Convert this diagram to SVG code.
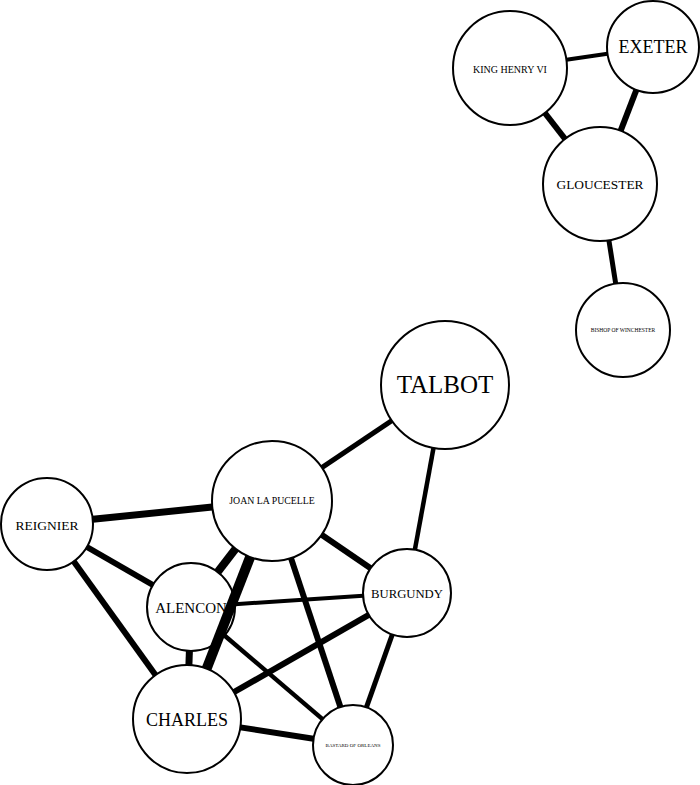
<svg xmlns="http://www.w3.org/2000/svg" width="700" height="785" viewBox="0 0 700 785">
<style>
  .node circle { fill: #ffffff; stroke: #000000; stroke-width: 2; }
  .node text { font-family: "Liberation Serif", "Times New Roman", serif; fill: #000000; text-anchor: middle; }
  #connectors line { stroke: #000000; stroke-linecap: butt; }
</style>
<rect width="700" height="785" fill="#ffffff"/>
<g id="nodes">
  <g id="king-henry-vi" class="node"><circle cx="510" cy="68" r="57"/><text x="510" y="73" font-size="10">KING HENRY VI</text></g>
  <g id="exeter" class="node"><circle cx="653" cy="47" r="46"/><text x="653" y="53" font-size="18">EXETER</text></g>
  <g id="gloucester" class="node"><circle cx="600" cy="184" r="57"/><text x="600" y="189" font-size="13.4">GLOUCESTER</text></g>
  <g id="bishop-of-winchester" class="node"><circle cx="623" cy="330" r="47"/><text x="623" y="332" font-size="5.5">BISHOP OF WINCHESTER</text></g>
  <g id="talbot" class="node"><circle cx="445" cy="385" r="64"/><text x="445" y="393" font-size="25">TALBOT</text></g>
  <g id="joan-la-pucelle" class="node"><circle cx="272" cy="501" r="60"/><text x="272" y="504" font-size="9.8">JOAN LA PUCELLE</text></g>
  <g id="reignier" class="node"><circle cx="47" cy="524" r="46"/><text x="47" y="530" font-size="13.5">REIGNIER</text></g>
  <g id="alencon" class="node"><circle cx="191" cy="607" r="44"/><text x="191" y="613" font-size="15">ALENCON</text></g>
  <g id="burgundy" class="node"><circle cx="407" cy="593" r="44"/><text x="407" y="598" font-size="12.7">BURGUNDY</text></g>
  <g id="charles" class="node"><circle cx="187" cy="719" r="54"/><text x="187" y="726" font-size="18">CHARLES</text></g>
  <g id="bastard-of-orleans" class="node"><circle cx="353" cy="745" r="40"/><text x="353" y="747" font-size="5">BASTARD OF ORLEANS</text></g>
</g>
<g id="connectors">
  <line x1="566.4" y1="59.7" x2="607.5" y2="53.7" stroke-width="4"/>
  <line x1="544.9" y1="113.0" x2="565.1" y2="139.0" stroke-width="6"/>
  <line x1="636.4" y1="89.9" x2="620.6" y2="130.8" stroke-width="6"/>
  <line x1="608.9" y1="240.3" x2="615.7" y2="283.6" stroke-width="5"/>
  <line x1="391.8" y1="420.6" x2="321.8" y2="467.6" stroke-width="5"/>
  <line x1="433.5" y1="448.0" x2="414.9" y2="549.7" stroke-width="4.5"/>
  <line x1="92.8" y1="519.3" x2="212.3" y2="507.1" stroke-width="7"/>
  <line x1="86.9" y1="547.0" x2="152.9" y2="585.0" stroke-width="6"/>
  <line x1="73.8" y1="561.4" x2="155.5" y2="675.1" stroke-width="6"/>
  <line x1="235.6" y1="548.7" x2="217.7" y2="572.0" stroke-width="8"/>
  <line x1="250.2" y1="556.9" x2="206.6" y2="668.7" stroke-width="10"/>
  <line x1="321.6" y1="534.8" x2="370.6" y2="568.2" stroke-width="6"/>
  <line x1="290.9" y1="557.9" x2="340.4" y2="707.0" stroke-width="6"/>
  <line x1="234.9" y1="604.2" x2="363.1" y2="595.8" stroke-width="4"/>
  <line x1="189.4" y1="651.0" x2="188.9" y2="665.0" stroke-width="7"/>
  <line x1="224.5" y1="635.5" x2="322.5" y2="719.1" stroke-width="4.5"/>
  <line x1="368.8" y1="614.9" x2="233.9" y2="692.2" stroke-width="6"/>
  <line x1="392.3" y1="634.5" x2="366.4" y2="707.3" stroke-width="5"/>
  <line x1="240.4" y1="727.4" x2="313.5" y2="738.8" stroke-width="6"/>
</g>
</svg>
